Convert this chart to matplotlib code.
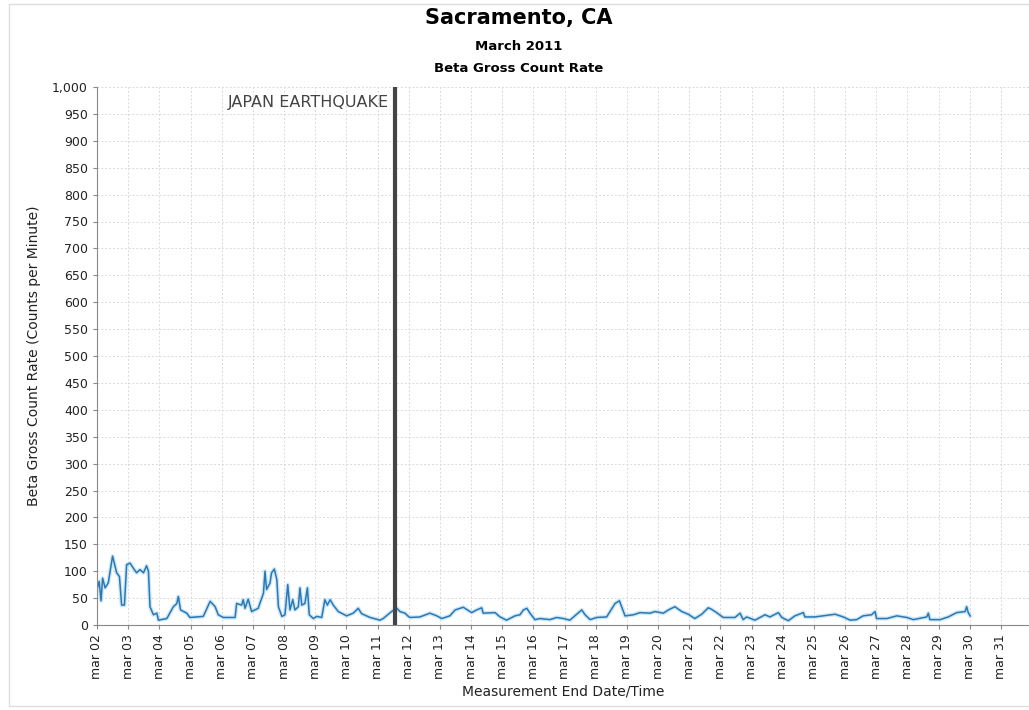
import matplotlib
matplotlib.use('Agg')
import matplotlib.pyplot as plt
from matplotlib.patches import Rectangle
from matplotlib.ticker import FuncFormatter

# days since mar 02 00:00 and count rate
days = [0.0, 0.07, 0.13, 0.18, 0.26, 0.36, 0.50, 0.63, 0.72, 0.79, 0.88, 0.95,
        1.06, 1.16, 1.27, 1.38, 1.49, 1.59, 1.65, 1.70, 1.81, 1.92, 1.97,
        2.24, 2.45, 2.56, 2.61, 2.68, 2.88, 2.98, 3.41, 3.63, 3.79, 3.89,
        4.05, 4.43, 4.48, 4.64, 4.69, 4.75, 4.85, 4.96, 5.17, 5.34, 5.39,
        5.44, 5.55, 5.60, 5.69, 5.77, 5.82, 5.93, 6.03, 6.12, 6.19, 6.28,
        6.35, 6.46, 6.51, 6.57, 6.67, 6.75, 6.81, 6.94, 7.05, 7.21, 7.31,
        7.39, 7.48, 7.58, 7.74, 8.01, 8.22, 8.38, 8.49, 8.76, 9.08, 9.18,
        9.45, 9.62, 9.72, 9.88, 9.99,
        10.04, 10.36, 10.68, 10.90, 11.06, 11.32, 11.49, 11.75, 11.91, 12.02,
        12.18, 12.34, 12.39, 12.77, 12.93, 13.14, 13.41, 13.57, 13.68, 13.79,
        13.89, 14.05, 14.21, 14.53, 14.75, 14.96, 15.17, 15.39, 15.55, 15.66,
        15.82, 16.03, 16.35, 16.62, 16.76, 16.83, 16.94, 17.21, 17.42, 17.74,
        17.90, 18.17, 18.33, 18.54, 18.76, 18.97, 19.18, 19.40, 19.61, 19.72,
        19.88, 20.09, 20.47, 20.63, 20.73, 20.84, 21.11, 21.43, 21.59, 21.86,
        21.97, 22.18, 22.39, 22.66, 22.71, 23.03, 23.30, 23.68, 23.94, 24.16,
        24.37, 24.58, 24.85, 24.96, 25.01, 25.34, 25.66, 25.98, 26.19, 26.62,
        26.67, 26.72, 27.05, 27.31, 27.58, 27.85, 27.90, 27.95, 28.01]
cpm = [66, 81, 45, 87, 69, 78, 128, 97, 90, 37, 37, 112,
       115, 106, 97, 103, 97, 110, 100, 34, 19, 22, 9,
       12, 34, 40, 53, 28, 22, 14, 16, 44, 34, 19,
       14, 14, 40, 37, 47, 31, 48, 25, 31, 59, 100,
       66, 78, 97, 104, 84, 34, 16, 19, 75, 28, 47,
       28, 34, 69, 37, 40, 69, 19, 12, 16, 14, 47,
       37, 47, 37, 25, 17, 22, 31, 21, 14, 9, 12,
       25, 31, 25, 22, 16,
       14, 15, 22, 17, 12, 17, 28, 33, 27, 23,
       28, 32, 22, 23, 15, 9, 17, 19, 28, 31,
       22, 10, 12, 10, 14, 12, 9, 20, 28, 19,
       10, 14, 15, 40, 45, 34, 17, 19, 23, 22,
       25, 22, 28, 34, 25, 20, 12, 20, 32, 29,
       23, 14, 14, 22, 10, 15, 9, 19, 15, 23,
       14, 8, 17, 23, 15, 15, 17, 20, 15, 9,
       10, 17, 19, 25, 12, 12, 17, 14, 10, 15,
       22, 10, 10, 15, 23, 25, 34, 23, 17]

tick_labels = ['mar %02d' % d for d in range(2, 32)]
quake_day = 9.56

fig = plt.figure(figsize=(10.29, 7.10), dpi=100)
fig.patch.set_facecolor('white')
fig.patches.append(Rectangle((9 / 1029, 0.005), 1.0, 0.99, transform=fig.transFigure,
                             fill=False, edgecolor='#dddddd', lw=1))

ax = fig.add_axes([97 / 1029, 1 - 625 / 710, 1 - 97 / 1029, (625 - 87) / 710])
ax.plot(days, cpm, color='#9fd0ef', lw=3, alpha=0.5)
ax.plot(days, cpm, color='#2a78b4', lw=1.1)
ax.axvline(quake_day, color='#444444', lw=3)
ax.text(quake_day - 0.2, 985, 'JAPAN EARTHQUAKE', ha='right', va='top',
        fontsize=11.5, color='#444444')

ax.set_xlim(0, 29.9)
ax.set_ylim(0, 1000)
ax.set_xticks(range(len(tick_labels)))
ax.set_xticklabels(tick_labels, rotation=90, fontsize=9)
ax.set_yticks(range(0, 1001, 50))
ax.yaxis.set_major_formatter(FuncFormatter(lambda v, p: '{:,.0f}'.format(v)))
ax.tick_params(axis='y', labelsize=9)
ax.tick_params(colors='#888888', labelcolor='#222222', length=3)
ax.grid(True, color='#d9d9d9', linestyle=(0, (2, 2)), lw=0.7)
for s in ['top', 'right']:
    ax.spines[s].set_visible(False)
for s in ['left', 'bottom']:
    ax.spines[s].set_color('#888888')

ax.set_ylabel('Beta Gross Count Rate (Counts per Minute)', fontsize=10, color='#222222')
ax.set_xlabel('Measurement End Date/Time', fontsize=10, color='#222222')
ax.yaxis.set_label_coords(-0.06, 0.5)
ax.xaxis.set_label_coords(0.5, -0.11)

cx = 519 / 1029
fig.text(cx, 1 - 18 / 710, 'Sacramento, CA', ha='center', va='center',
         fontsize=15, fontweight='bold')
fig.text(cx, 1 - 46 / 710, 'March 2011', ha='center', va='center',
         fontsize=9.5, fontweight='bold')
fig.text(cx, 1 - 68 / 710, 'Beta Gross Count Rate', ha='center', va='center',
         fontsize=9.5, fontweight='bold')

fig.savefig('out.png', dpi=100)
